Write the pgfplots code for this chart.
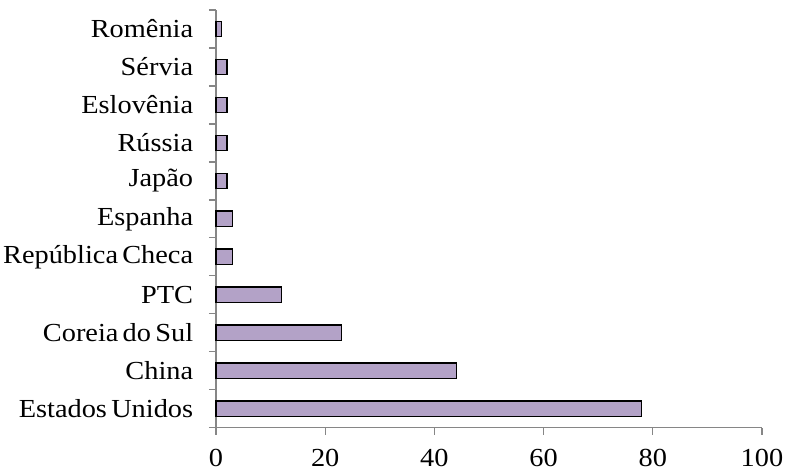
\documentclass[border=0pt]{standalone}
\usepackage{pgfplots}
\pgfplotsset{compat=1.18}
\usepackage{fontspec}
\setmainfont{Liberation Serif}[FakeStretch=1.09, WordSpace=0.6]
\definecolor{barfill}{RGB}{179,162,199}
\definecolor{axgray}{RGB}{134,134,134}
\begin{document}
\fontsize{26bp}{30bp}\selectfont
\begin{tikzpicture}
\begin{axis}[
  name=ax,
  scale only axis,
  width=546bp, height=417.7bp,
  xbar,
  bar width=15.5bp,
  xmin=0, xmax=100,
  ymin=-0.5, ymax=10.5,
  xtick={0,20,40,60,80,100},
  ytick={-0.5,0.5,...,10.5},
  yticklabels={},
  extra y ticks={0,1,2,3,4,5,6,7,8,9,10},
  extra y tick labels={Estados Unidos,China,Coreia do Sul,PTC,República Checa,Espanha\hspace{0.25em},Japão\hspace{0.3em},Rússia,Eslovênia,Sérvia,Romênia},
  extra y tick style={major tick length=0pt, tick style={draw=none}, yticklabel style={xshift=-14bp}},
  axis x line*=bottom,
  axis y line*=left,
  axis line style={draw=axgray, line width=1.3bp, -},
  tick style={draw=axgray, line width=1.3bp},
  major tick length=7bp,
  tick align=outside,
  xticklabel style={yshift=-6bp},
  /pgf/number format/assume math mode=true,
  ticklabel style={font=\fontsize{26bp}{30bp}\selectfont},
  clip=false,
]
\addplot[fill=barfill, draw=black, line width=1.2bp] coordinates {
(78,0) (44,1) (23,2) (12,3) (3,4) (3,5) (2,6) (2,7) (2,8) (2,9) (1,10)
};
\end{axis}
\pgfresetboundingbox
\path ([xshift=-216bp,yshift=-43.3bp]ax.south west) rectangle ([xshift=24bp,yshift=10bp]ax.north east);
\end{tikzpicture}
\end{document}
